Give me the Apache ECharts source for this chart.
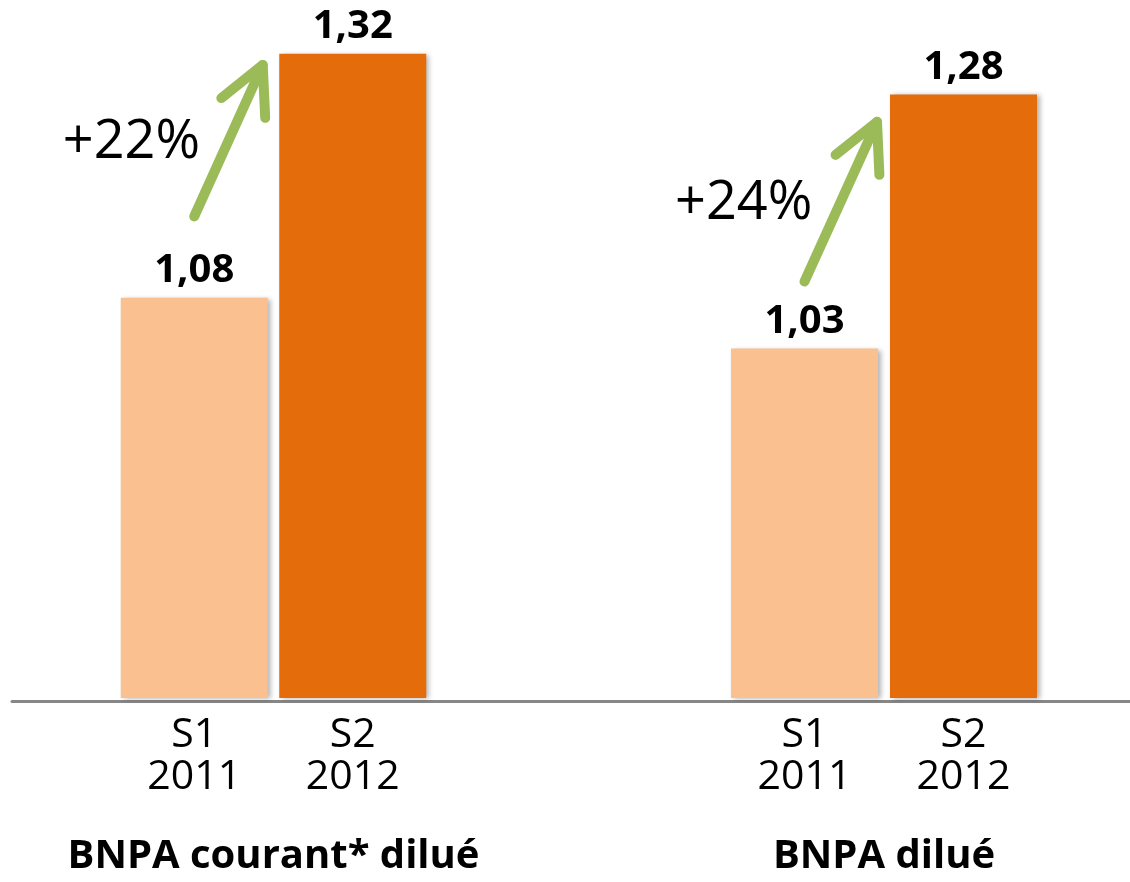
<!DOCTYPE html>
<html>
<head>
<meta charset="utf-8">
<script src="https://cdn.jsdelivr.net/npm/echarts@6/dist/echarts.min.js"></script>
<style>
  html, body { margin: 0; padding: 0; background: #fff; }
  #chart { width: 1130px; height: 882px; }
</style>
</head>
<body>
<div id="chart"></div>
<script>
// ---- data ----
const categories = ['S1\n2011', 'S2\n2012'];
const groupNames = ['BNPA courant* dilué', 'BNPA dilué'];
const valuesCourant = [1.08, 1.32];
const valuesDilue = [1.03, 1.28];
// arrow anchors in data space: [category offset from S1, value] for start and tip
const arrowCourant = [0.0, 1.160, 0.432, 1.309];
const arrowDilue = [0.0, 1.096, 0.456, 1.253];

// ---- styling ----
const FONT = '"Open Sans", "Liberation Sans", sans-serif';
const barColors = ['#FAC090', '#E46C0A'];
const arrowColor = '#9BBB59';
const yMin = 0.6862, yMax = 1.3719;
const gridTop = 1, gridBottom = 181;

function growth(vals) {
  return '+' + Math.round((vals[1] / vals[0] - 1) * 100) + '%';
}

function barSeries(idx, vals) {
  return {
    type: 'bar',
    xAxisIndex: idx, yAxisIndex: idx,
    barWidth: 147,
    data: vals.map((v, i) => ({ value: v, itemStyle: { color: barColors[i] } })),
    itemStyle: {
      shadowColor: 'rgba(0,0,0,0.30)', shadowBlur: 5, shadowOffsetX: 3, shadowOffsetY: 1
    },
    label: {
      show: true, position: 'top', distance: 7,
      fontFamily: FONT, fontWeight: 'bold', fontSize: 40, color: '#000',
      formatter: p => p.value.toFixed(2).replace('.', ',')
    },
    silent: true
  };
}

function arrowSeries(idx, arrow, text) {
  return {
    type: 'custom',
    xAxisIndex: idx, yAxisIndex: idx,
    data: [arrow],
    silent: true,
    z: 5,
    renderItem: function (params, api) {
      const sx = api.value(0), sy = api.value(1), ex = api.value(2), ey = api.value(3);
      const a0 = api.coord([0, sy]);
      const band = api.coord([1, sy])[0] - a0[0];
      const start = [a0[0] + sx * band, a0[1]];
      const b0 = api.coord([0, ey]);
      const tip = [b0[0] + ex * band, b0[1]];
      const dx = tip[0] - start[0], dy = tip[1] - start[1];
      const len = Math.sqrt(dx * dx + dy * dy);
      const bx = -dx / len, by = -dy / len;
      const ang = 27 * Math.PI / 180, armLen = 53;
      function rot(a) {
        return [tip[0] + armLen * (bx * Math.cos(a) - by * Math.sin(a)),
                tip[1] + armLen * (bx * Math.sin(a) + by * Math.cos(a))];
      }
      const lineStyle = { stroke: arrowColor, lineWidth: 10, lineCap: 'round', lineJoin: 'round', fill: null };
      const mid = [(start[0] + tip[0]) / 2, (start[1] + tip[1]) / 2];
      return {
        type: 'group',
        children: [
          { type: 'line', shape: { x1: start[0], y1: start[1], x2: tip[0], y2: tip[1] }, style: lineStyle },
          { type: 'polyline', shape: { points: [rot(ang), tip, rot(-ang)] }, style: lineStyle },
          { type: 'text', style: {
              text: text, x: mid[0] - 97, y: mid[1] + 2,
              fontFamily: FONT, fontSize: 54, fill: '#000',
              align: 'center', verticalAlign: 'middle'
          } }
        ]
      };
    }
  };
}

function catAxis(idx, name) {
  return {
    type: 'category', gridIndex: idx, data: categories,
    axisLine: { show: false }, axisTick: { show: false },
    axisLabel: { fontFamily: FONT, fontSize: 41, lineHeight: 42, color: '#000', margin: 16 },
    name: name, nameLocation: 'middle', nameGap: 139,
    nameTextStyle: { fontFamily: FONT, fontSize: 40, fontWeight: 'bold', color: '#000' }
  };
}

function valAxis(idx) {
  return { type: 'value', gridIndex: idx, min: yMin, max: yMax, show: false };
}

const option = {
  animation: false,
  backgroundColor: '#ffffff',
  grid: [
    { left: 115, width: 317, top: gridTop, bottom: gridBottom },
    { left: 725, width: 318, top: gridTop, bottom: gridBottom },
    { left: 12, right: 0, top: gridTop, bottom: gridBottom }
  ],
  xAxis: [
    catAxis(0, groupNames[0]),
    catAxis(1, groupNames[1]),
    { type: 'value', gridIndex: 2, min: 0, max: 1,
      axisLine: { show: true, lineStyle: { color: '#878787', width: 3 } },
      axisTick: { show: false }, axisLabel: { show: false }, splitLine: { show: false } }
  ],
  yAxis: [valAxis(0), valAxis(1), valAxis(2)],
  series: [
    barSeries(0, valuesCourant),
    barSeries(1, valuesDilue),
    arrowSeries(0, arrowCourant, growth(valuesCourant)),
    arrowSeries(1, arrowDilue, growth(valuesDilue))
  ]
};

const chart = echarts.init(document.getElementById('chart'), null, { renderer: 'canvas' });
chart.setOption(option);
</script>
</body>
</html>
